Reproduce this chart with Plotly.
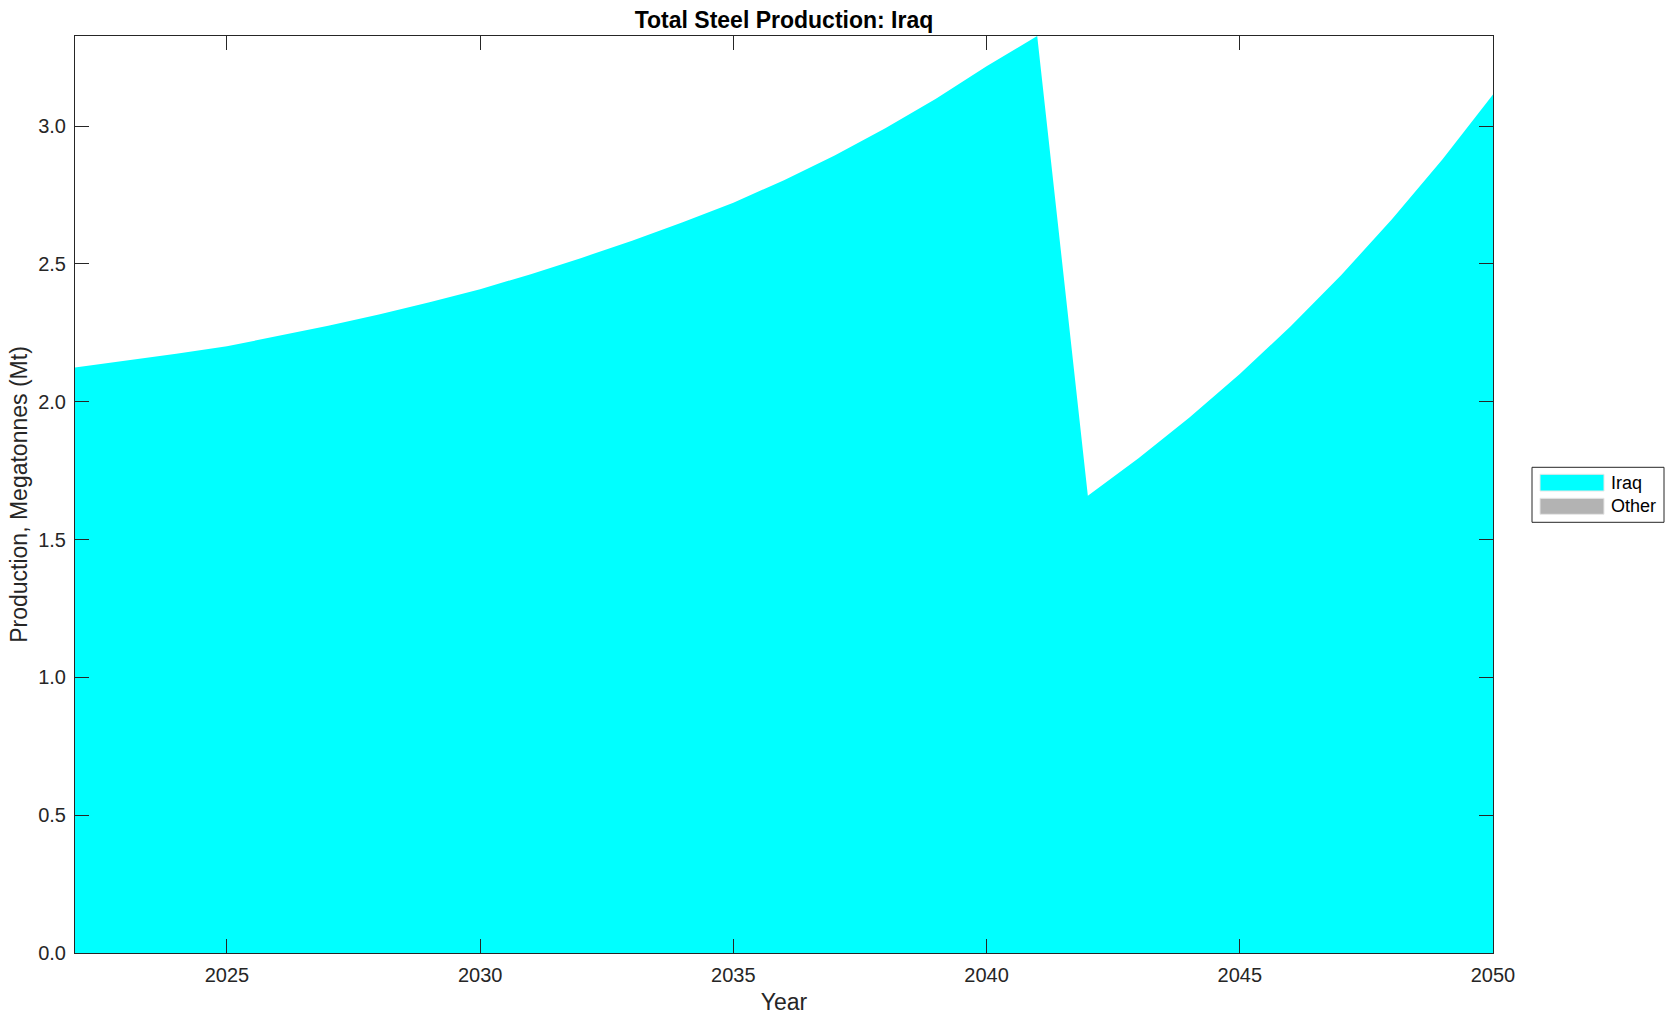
import plotly.graph_objects as go

# ---- data ----
years = [2022, 2023, 2024, 2025, 2026, 2027, 2028, 2029, 2030, 2031, 2032,
         2033, 2034, 2035, 2036, 2037, 2038, 2039, 2040, 2041, 2042, 2043,
         2044, 2045, 2046, 2047, 2048, 2049, 2050]
iraq = [2.124, 2.148, 2.174, 2.201, 2.238, 2.276, 2.317, 2.361, 2.408, 2.463,
        2.522, 2.584, 2.651, 2.722, 2.804, 2.893, 2.992, 3.099, 3.217, 3.327,
        1.659, 1.795, 1.942, 2.101, 2.273, 2.459, 2.661, 2.879, 3.115]
other = [0.0] * len(years)

series_names = ["Iraq", "Other"]
series_colors = ["#00FFFF", "#B3B3B3"]
y_ticks = [0.0, 0.5, 1.0, 1.5, 2.0, 2.5, 3.0]
x_ticks = [2025, 2030, 2035, 2040, 2045, 2050]

FONT = "Liberation Sans, Arial, Helvetica, sans-serif"
AXC = "#262626"

fig = go.Figure()
for name, vals, col in zip(series_names, [iraq, other], series_colors):
    fig.add_trace(go.Scatter(
        x=years, y=vals, name=name, mode="lines",
        stackgroup="one", line=dict(width=0, color=col),
        fillcolor=col, showlegend=False,
    ))

W, H = 1677, 1021
L, R, T, B = 75, 184, 36, 68
pw = W - L - R
ph = H - T - B


def px2paper_x(p):
    return (p - L) / pw


def px2paper_y(q):
    return (H - B - q) / ph


shapes = []
annotations = []
# legend box
shapes.append(dict(type="rect", xref="paper", yref="paper",
                   x0=px2paper_x(1532), x1=px2paper_x(1664),
                   y0=px2paper_y(522.3), y1=px2paper_y(467.3),
                   line=dict(color=AXC, width=1), fillcolor="white"))
rows_y = [(474.3, 491.0), (498.3, 514.3)]
for (q0, q1), name, col in zip(rows_y, series_names, series_colors):
    shapes.append(dict(type="rect", xref="paper", yref="paper",
                       x0=px2paper_x(1540), x1=px2paper_x(1604),
                       y0=px2paper_y(q1), y1=px2paper_y(q0),
                       line=dict(color="#E6E6E6", width=1), fillcolor=col))
    annotations.append(dict(xref="paper", yref="paper",
                            x=px2paper_x(1609), y=px2paper_y((q0 + q1) / 2),
                            xanchor="left", yanchor="middle", showarrow=False,
                            text=name, font=dict(family=FONT, size=18, color="black")))

fig.update_layout(
    width=W, height=H,
    margin=dict(l=L, r=R, t=T, b=B, autoexpand=False),
    paper_bgcolor="white", plot_bgcolor="white",
    title=dict(text="<b>Total Steel Production: Iraq</b>", x=(L + pw / 2) / W,
               xanchor="center", y=1 - 20 / H, yanchor="middle",
               font=dict(family=FONT, size=23, color="black")),
    font=dict(family=FONT, size=20, color=AXC),
    showlegend=False,
    shapes=shapes,
    annotations=annotations,
    xaxis=dict(range=[2022, 2050], tickvals=x_ticks, ticktext=[str(v) for v in x_ticks],
               showgrid=False, zeroline=False, showline=True, linecolor=AXC, linewidth=1,
               mirror="ticks", ticks="inside", ticklen=14, tickcolor=AXC, tickwidth=1,
               ticklabelstandoff=4,
               tickfont=dict(family=FONT, size=20, color=AXC),
               title=dict(text="Year", font=dict(family=FONT, size=23, color=AXC), standoff=8),
               automargin=False, layer="above traces"),
    yaxis=dict(range=[0, max(iraq)], tickvals=y_ticks, ticktext=[f"{v:.1f}" for v in y_ticks],
               showgrid=False, zeroline=False, showline=True, linecolor=AXC, linewidth=1,
               mirror="ticks", ticks="inside", ticklen=14, tickcolor=AXC, tickwidth=1,
               ticklabelstandoff=4,
               tickfont=dict(family=FONT, size=20, color=AXC),
               title=dict(text="Production, Megatonnes (Mt)",
                          font=dict(family=FONT, size=23, color=AXC), standoff=4),
               automargin=False, layer="above traces"),
)

fig.write_html("out.html", config={"displayModeBar": False},
               post_script="document.body.style.margin='0';")
